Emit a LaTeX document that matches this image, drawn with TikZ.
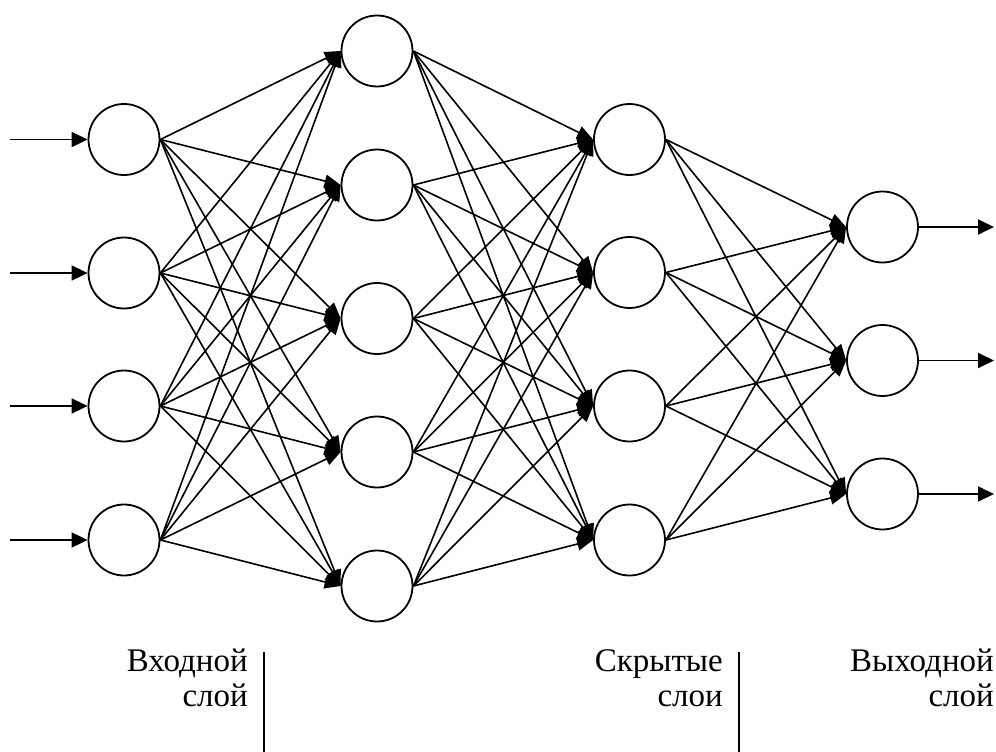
\documentclass[tikz,border=0pt]{standalone}
\usepackage{fontspec}
\setmainfont{Liberation Serif}
\usetikzlibrary{arrows.meta}
\begin{document}
\begin{tikzpicture}[x=1pt,y=-1pt,
  neuron/.style={circle,draw,line width=1.8pt,minimum size=71pt,inner sep=0pt},
  link/.style={line width=1.6pt,-{Triangle[length=16pt,width=13pt]}},
  io/.style={line width=1.8pt,-{Triangle[length=16pt,width=15pt]}},
  lbl/.style={font=\fontsize{33}{33}\selectfont,inner sep=0pt},
  sep/.style={line width=1.5pt}]
\useasboundingbox[fill=white] (0,0) rectangle (996,752);
% layers
\foreach \y [count=\i] in {139.5,273,406,540} \node[neuron] (a\i) at (124,\y) {};
\foreach \y [count=\i] in {51,185,318.5,452,586} \node[neuron] (b\i) at (377,\y) {};
\foreach \y [count=\i] in {139.5,272.5,406,540} \node[neuron] (c\i) at (629.5,\y) {};
\foreach \y [count=\i] in {227,360.5,494} \node[neuron] (d\i) at (882.5,\y) {};
% connections
\foreach \i in {1,...,4} \foreach \j in {1,...,5} \draw[link] (a\i.east) -- (b\j.west);
\foreach \i in {1,...,5} \foreach \j in {1,...,4} \draw[link] (b\i.east) -- (c\j.west);
\foreach \i in {1,...,4} \foreach \j in {1,...,3} \draw[link] (c\i.east) -- (d\j.west);
% inputs and outputs
\foreach \i in {1,...,4} {
  \coordinate (in\i) at (10,0 |- a\i);
  \draw[io] (in\i) -- (a\i.west);
}
\foreach \i in {1,...,3} {
  \coordinate (out\i) at (994,0 |- d\i);
  \draw[io] (d\i.east) -- (out\i);
}
% labels
\node[lbl,anchor=base east] (t1a) at (248,671) {Входной};
\node[lbl,anchor=base east] (t1b) at (248,706) {слой};
\node[lbl,anchor=base east] (t2a) at (723,671) {Скрытые};
\node[lbl,anchor=base east] (t2b) at (723,706) {слои};
\node[lbl,anchor=base east] (t3a) at (994,671) {Выходной};
\node[lbl,anchor=base east] (t3b) at (994,706) {слой};
\coordinate (s1t) at (264,652); \coordinate (s1b) at (264,752);
\coordinate (s2t) at (739,652); \coordinate (s2b) at (739,752);
\draw[sep] (s1t) -- (s1b);
\draw[sep] (s2t) -- (s2b);
\end{tikzpicture}
\end{document}
